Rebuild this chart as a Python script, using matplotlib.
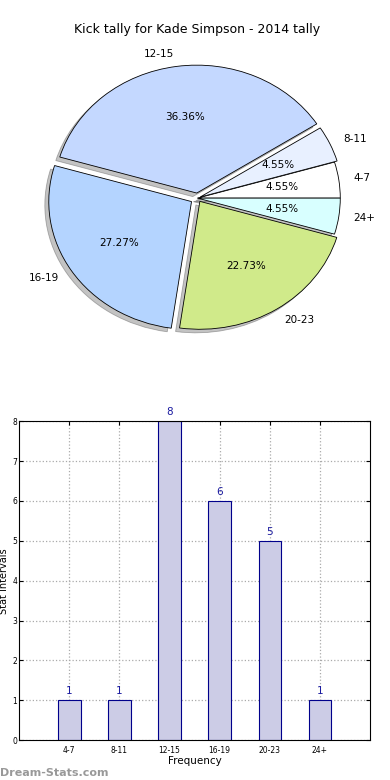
import numpy as np
import matplotlib
matplotlib.use('Agg')
import matplotlib.pyplot as plt

categories = ['4-7', '8-11', '12-15', '16-19', '20-23', '24+']
counts = [1, 1, 8, 6, 5, 1]
pie_colors = ['#ffffff', '#e8f0ff', '#c4d8ff', '#b4d4ff', '#d0ea8a', '#d8ffff']
explode = [0, 0.02, 0.04, 0.05, 0.03, 0]

fig = plt.figure(figsize=(3.9, 7.8), dpi=100)

# Pie (old-style, not forced to equal aspect)
ax1 = fig.add_axes([0.049, 0.541, 0.915, 0.41])
wedges, texts, autotexts = ax1.pie(counts, labels=categories, colors=pie_colors,
                                   explode=explode, autopct='%.2f%%',
                                   shadow=dict(ox=-0.02, oy=-0.02, facecolor='#888888',
                                               edgecolor='#666666'),
                                   wedgeprops=dict(edgecolor='black', linewidth=0.6),
                                   textprops=dict(fontsize=7.5))
ax1.set_aspect('auto')
ax1.set_xlim(-1.25, 1.25)
ax1.set_ylim(-1.25, 1.25)
ax1.set_title('Kick tally for Kade Simpson - 2014 tally', fontsize=9, pad=4)

# Bars
ax2 = fig.add_axes([0.049, 0.051, 0.9, 0.409])
x = np.arange(1, len(categories) + 1)
ax2.bar(x, counts, width=0.45, color='#ccccE6', edgecolor='#00008b', linewidth=0.8, zorder=2)
for xi, c in zip(x, counts):
    ax2.text(xi, c + 0.1, str(c), ha='center', va='bottom', color='#1a1aa0', fontsize=7.5)
ax2.set_xlim(0, 7)
ax2.set_ylim(0, 8)
ax2.set_xticks(x)
ax2.set_xticklabels(categories)
ax2.set_yticks(range(0, 9))
ax2.tick_params(direction='in', top=True, right=True, labelsize=5.5, length=3, pad=4)
ax2.tick_params(axis='y', pad=1.5)
ax2.grid(True, linestyle=':', color='#aaaaaa', linewidth=0.9, zorder=0)
ax2.set_axisbelow(True)
ax2.set_xlabel('Frequency', fontsize=7.5, labelpad=1)
ax2.set_ylabel('Stat Intervals', fontsize=7, labelpad=0)
ax2.yaxis.set_label_coords(-0.028, 0.5)

fig.text(0.0, 0.005, 'Dream-Stats.com', fontsize=8, color='#999999', fontweight='bold')

fig.savefig('out.png', dpi=100)
